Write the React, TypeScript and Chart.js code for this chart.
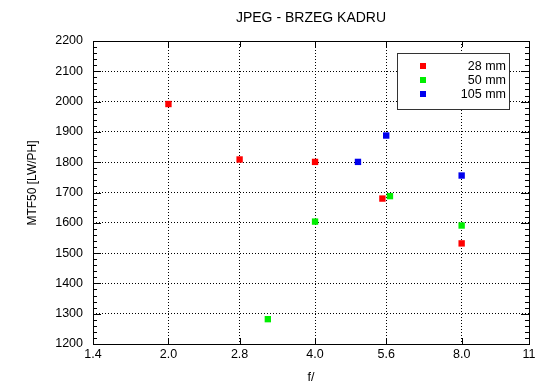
import React, { useEffect, useRef } from "react";
import { Chart, registerables } from "chart.js";

Chart.register(...registerables);

const titleText = "JPEG - BRZEG KADRU";
const xTitle = "f/";
const yTitle = "MTF50 [LW/PH]";

const xTickValues = [1.4, 2.0, 2.8, 4.0, 5.6, 8.0, 11];
const xTickLabels = ["1.4", "2.0", "2.8", "4.0", "5.6", "8.0", "11"];

const seriesLabels = ["28 mm", "50 mm", "105 mm"];
const seriesColors = ["#ff0000", "#00ee00", "#0000ee"];

const apert28 = [2.0, 2.8, 4.0, 5.5, 8.0];
const mtf28 = [1992, 1809, 1801, 1680, 1532];

const apert50 = [3.2, 4.0, 5.7, 8.0];
const mtf50 = [1282, 1604, 1688, 1591];

const apert105 = [4.9, 5.6, 8.0];
const mtf105 = [1801, 1888, 1756];

const FONT = "'Liberation Sans', Arial, Helvetica, sans-serif";

const decorPlugin = {
  id: "decor",
  afterDraw(chart: any) {
    const ctx = chart.ctx;
    const { left, right, top, bottom } = chart.chartArea;
    const ys = chart.scales.y;
    const xs = chart.scales.x;
    ctx.save();
    // frame
    ctx.strokeStyle = "#000";
    ctx.lineWidth = 1;
    ctx.setLineDash([]);
    ctx.strokeRect(Math.round(left) + 0.5, Math.round(top) + 0.5, Math.round(right - left), Math.round(bottom - top));
    // y ticks (major + minor) inward on both sides
    ctx.beginPath();
    for (let v = 1200; v <= 2200; v += 20) {
      const py = Math.round(ys.getPixelForValue(v)) + 0.5;
      const len = v % 100 === 0 ? 8 : 4;
      ctx.moveTo(left, py);
      ctx.lineTo(left + len, py);
      ctx.moveTo(right, py);
      ctx.lineTo(right - len, py);
    }
    // x major ticks inward top and bottom
    for (const v of xTickValues) {
      const px = Math.round(xs.getPixelForValue(v)) + 0.5;
      ctx.moveTo(px, bottom);
      ctx.lineTo(px, bottom - 6);
      ctx.moveTo(px, top);
      ctx.lineTo(px, top + 6);
    }
    ctx.stroke();

    // y axis title
    ctx.fillStyle = "#000";
    ctx.font = `12px ${FONT}`;
    ctx.textAlign = "center";
    ctx.textBaseline = "middle";
    ctx.save();
    ctx.translate(33, 183);
    ctx.rotate(-Math.PI / 2);
    ctx.fillText(yTitle, 0, 0);
    ctx.restore();

    // legend box
    const bx = 397, by = 53, bw = 112, bh = 56;
    ctx.fillStyle = "#fff";
    ctx.fillRect(bx, by, bw, bh);
    ctx.strokeStyle = "#333";
    ctx.lineWidth = 1;
    ctx.strokeRect(bx + 0.5, by + 0.5, bw, bh);
    ctx.font = `12.5px ${FONT}`;
    ctx.textAlign = "right";
    ctx.textBaseline = "middle";
    chart.data.datasets.forEach((ds: any, i: number) => {
      const cy = 66 + i * 14;
      ctx.fillStyle = ds.backgroundColor;
      ctx.fillRect(420, cy - 3, 6, 6);
      ctx.fillStyle = "#000";
      ctx.fillText(ds.label, 506, cy + 0.5);
    });
    ctx.restore();
  },
};

export default function App() {
  const ref = useRef<HTMLCanvasElement>(null);

  useEffect(() => {
    if (!ref.current) return;
    const mk = (xs: number[], ys: number[]) => xs.map((x, i) => ({ x, y: ys[i] }));
    const chart = new Chart(ref.current, {
      type: "scatter",
      data: {
        datasets: [
          { label: seriesLabels[0], data: mk(apert28, mtf28), backgroundColor: seriesColors[0], borderColor: seriesColors[0] },
          { label: seriesLabels[1], data: mk(apert50, mtf50), backgroundColor: seriesColors[1], borderColor: seriesColors[1] },
          { label: seriesLabels[2], data: mk(apert105, mtf105), backgroundColor: seriesColors[2], borderColor: seriesColors[2] },
        ],
      },
      options: {
        animation: false,
        responsive: true,
        maintainAspectRatio: false,
        layout: { padding: { left: 0, right: 21, top: 0, bottom: 0 } },
        elements: {
          point: { pointStyle: "rect", radius: 4.5, borderWidth: 0, hoverRadius: 4.5 },
        },
        plugins: {
          legend: { display: false },
          tooltip: { enabled: false },
          title: {
            display: true,
            text: titleText,
            fullSize: false,
            color: "#000",
            font: { family: FONT, size: 14, weight: "normal" },
            padding: { top: 10, bottom: 14.2 },
          },
        },
        scales: {
          x: {
            type: "logarithmic",
            min: 1.4,
            max: 11,
            afterBuildTicks: (scale: any) => {
              scale.ticks = xTickValues.map((v) => ({ value: v }));
            },
            afterFit: (scale: any) => {
              scale.height = 45;
            },
            ticks: {
              autoSkip: false,
              maxRotation: 0,
              padding: 3,
              color: "#000",
              font: { family: FONT, size: 12.5 },
              callback: (_v: any, i: number) => xTickLabels[i],
            },
            grid: { color: "#000", lineWidth: 1, drawTicks: false },
            border: { display: false, dash: [1, 2] },
            title: {
              display: true,
              text: xTitle,
              color: "#000",
              font: { family: FONT, size: 12.5 },
              padding: { top: 0, bottom: 4 },
            },
          },
          y: {
            type: "linear",
            min: 1200,
            max: 2200,
            afterFit: (scale: any) => {
              scale.width = 93;
            },
            ticks: {
              stepSize: 100,
              padding: 10,
              color: "#000",
              font: { family: FONT, size: 12.5 },
              callback: (v: any) => String(v),
            },
            grid: { color: "#000", lineWidth: 1, drawTicks: false },
            border: { display: false, dash: [1, 2] },
          },
        },
      },
      plugins: [decorPlugin],
    });
    return () => chart.destroy();
  }, []);

  return (
    <div style={{ position: "absolute", left: 0, top: 0, width: 550, height: 389, background: "#fff" }}>
      <canvas ref={ref} />
    </div>
  );
}
